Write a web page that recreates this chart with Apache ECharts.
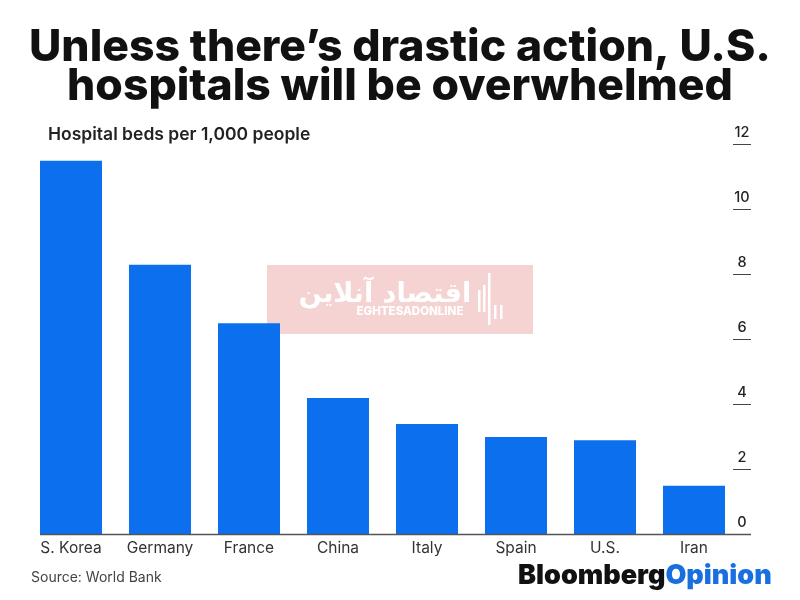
<!DOCTYPE html>
<html>
<head>
<meta charset="utf-8">
<style>html,body{margin:0;padding:0;background:#fff}#chart{width:800px;height:600px}</style>
<script src="https://cdn.jsdelivr.net/npm/echarts@6/dist/echarts.min.js"></script>
</head>
<body>
<div id="chart"></div>
<script>
var countries = ['S. Korea', 'Germany', 'France', 'China', 'Italy', 'Spain', 'U.S.', 'Iran'];
var beds = [11.5, 8.3, 6.5, 4.2, 3.4, 3.0, 2.9, 1.5];
var titleLines = ['Unless there\u2019s drastic action, U.S.', 'hospitals will be overwhelmed'];

var chart = echarts.init(document.getElementById('chart'));
var font = 'Inter, sans-serif';

// logo bars of the watermark
function wmBar(x, y, h) {
    return { type: 'rect', z: -1, shape: { x: x, y: y, width: 2.5, height: h }, style: { fill: '#fff' } };
}

chart.setOption({
    animation: false,
    backgroundColor: '#fff',
    title: [
        {
            text: titleLines.join('\n'),
            left: 400, top: 28, padding: 0, textAlign: 'center',
            textStyle: { fontFamily: font, fontSize: 44.5, fontWeight: 800, lineHeight: 39, color: '#111' }
        },
        {
            text: 'Hospital beds per 1,000 people',
            left: 48, top: 126, padding: 0,
            textStyle: { fontFamily: font, fontSize: 17.5, fontWeight: 600, color: '#222' }
        },
        {
            text: 'Source: World Bank',
            left: 31, top: 571, padding: 0,
            textStyle: { fontFamily: font, fontSize: 14, fontWeight: 'normal', color: '#444' }
        },
        {
            text: '{a|Bloomberg}{b|Opinion}',
            left: 518, top: 562, padding: 0,
            textStyle: {
                rich: {
                    a: { fontFamily: font, fontSize: 27, fontWeight: 900, color: '#111' },
                    b: { fontFamily: font, fontSize: 27, fontWeight: 900, color: '#1a6fe0' }
                }
            }
        }
    ],
    graphic: [
        { type: 'rect', z: -1, shape: { x: 267, y: 265, width: 266, height: 69 }, style: { fill: '#f6d3d3' } },
        { type: 'text', z: -1, x: 385, y: 295, style: { text: 'اقتصاد آنلاین', fill: '#fff', font: 'bold 27px "DejaVu Sans"', textAlign: 'center', textVerticalAlign: 'middle' } },
        { type: 'text', z: -1, x: 410, y: 312, style: { text: 'EGHTESADONLINE', fill: '#fff', font: '800 11.5px Inter', textAlign: 'center', textVerticalAlign: 'middle' } },
        wmBar(478, 290, 22), wmBar(483, 285, 27), wmBar(488, 273, 52), wmBar(494, 305, 14), wmBar(500, 305, 14),
        { type: 'line', z: 5, shape: { x1: 40, y1: 534.5, x2: 751, y2: 534.5 }, style: { stroke: '#555', lineWidth: 1.5 } }
    ],
    grid: { left: 26.5, right: 61.5, top: 144.5, bottom: 65.5 },
    xAxis: {
        type: 'category',
        data: countries,
        axisLine: { show: false },
        axisTick: { show: false },
        axisLabel: { margin: 6, fontFamily: font, fontSize: 15.5, color: '#333', interval: 0 }
    },
    yAxis: {
        type: 'value',
        position: 'right',
        offset: 12.5,
        min: 0,
        max: 12,
        interval: 2,
        splitLine: { show: false },
        axisLine: { show: false },
        axisTick: { show: true, inside: true, length: 18, lineStyle: { color: '#444', width: 1 } },
        axisLabel: {
            inside: true, margin: 9, align: 'center', verticalAlign: 'bottom', padding: [0, 0, 4, 0],
            fontFamily: font, fontSize: 14.5, fontWeight: 500, color: '#222'
        }
    },
    series: [{
        type: 'bar',
        data: beds,
        barWidth: 62,
        itemStyle: { color: '#0b6fee' }
    }]
});
</script>
</body>
</html>
